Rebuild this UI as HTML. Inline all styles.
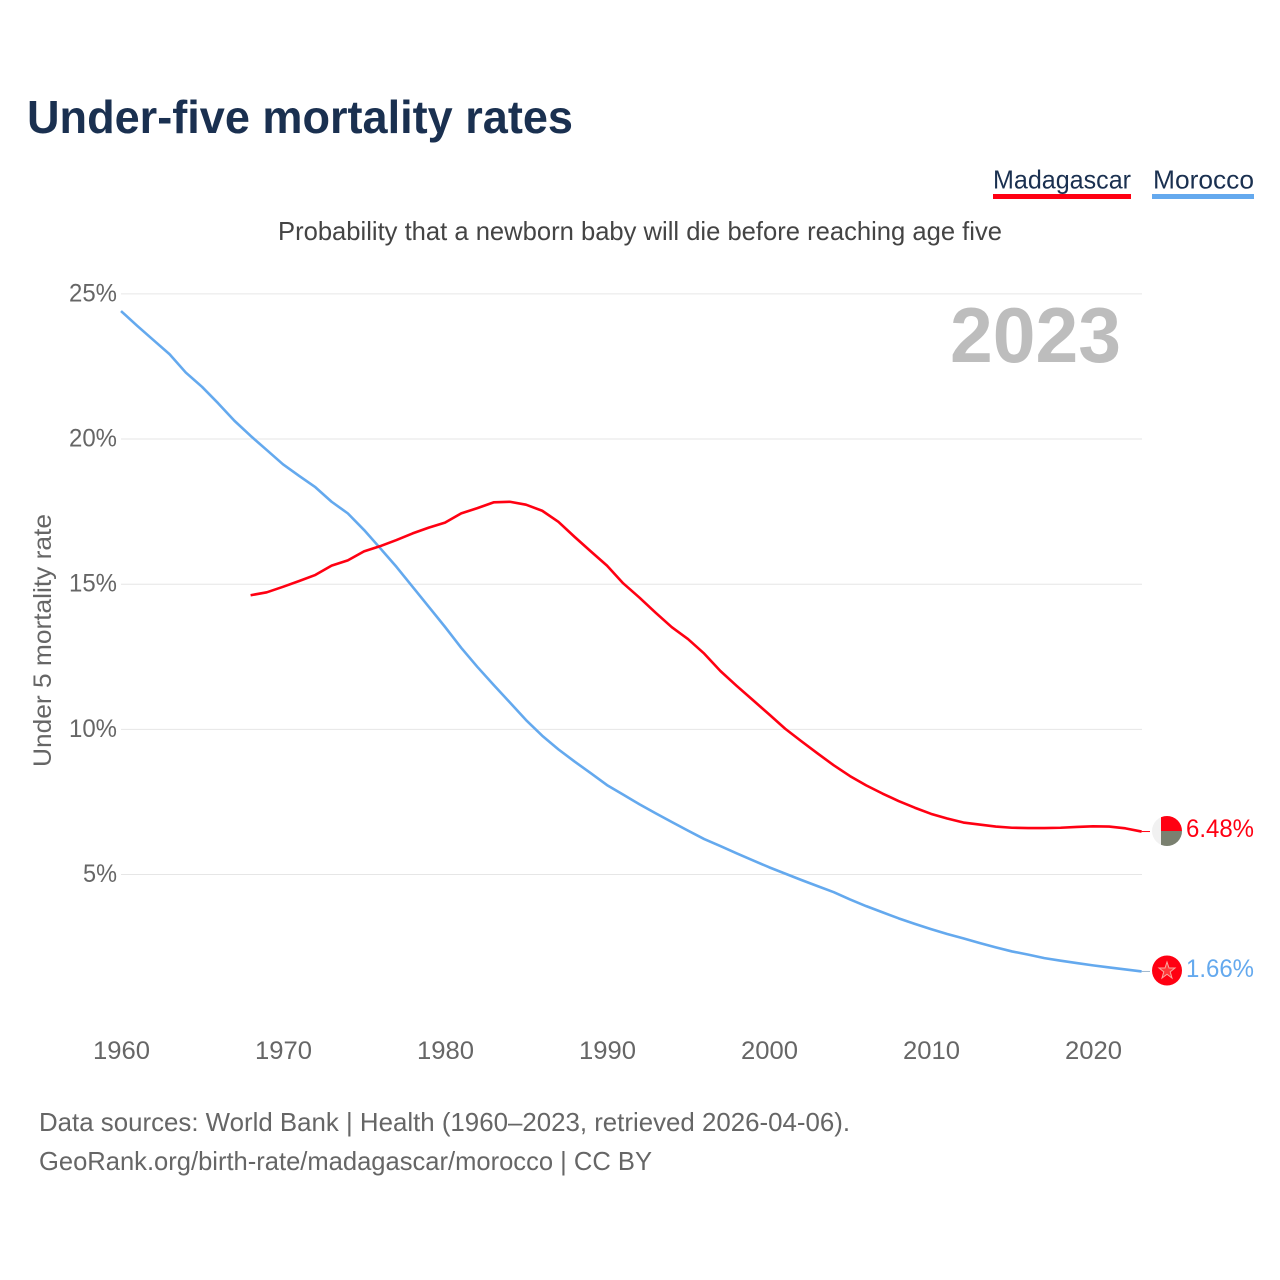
<!DOCTYPE html>
<html lang="en">
<head>
<meta charset="utf-8">
<title>Under-five mortality rates</title>
<style>
html,body{margin:0;padding:0;background:#fff;}
svg{display:block;font-family:"Liberation Sans",sans-serif;}
</style>
</head>
<body>
<svg id="chart" width="1280" height="1280" viewBox="0 0 1280 1280" xmlns="http://www.w3.org/2000/svg">
  <rect x="0" y="0" width="1280" height="1280" fill="#ffffff"/>
  <text x="27" y="133" font-size="46" font-weight="700" fill="#1a3050" textLength="546" lengthAdjust="spacingAndGlyphs">Under-five mortality rates</text>

  <g>
    <text x="993" y="188.5" font-size="26" fill="#1a3050" textLength="138" lengthAdjust="spacingAndGlyphs">Madagascar</text>
    <rect x="993" y="194" width="138" height="5" fill="#ff0012"/>
  </g>
  <g>
    <text x="1153" y="188.5" font-size="26" fill="#1a3050" textLength="101" lengthAdjust="spacingAndGlyphs">Morocco</text>
    <rect x="1152" y="194" width="102" height="5" fill="#64a9ee"/>
  </g>

  <text x="278" y="240" font-size="26" fill="#444444" textLength="724" lengthAdjust="spacingAndGlyphs">Probability that a newborn baby will die before reaching age five</text>

  <g id="grid"></g>
  <g id="y-ticks"></g>
  <g id="x-ticks"></g>

  <text x="950" y="362" font-size="78" font-weight="700" fill="#bdbdbd" textLength="171" lengthAdjust="spacingAndGlyphs">2023</text>

  <text transform="translate(51 767) rotate(-90)" x="0" y="0" font-size="25" fill="#666666" textLength="253" lengthAdjust="spacingAndGlyphs">Under 5 mortality rate</text>

  <line id="madagascar-connector" stroke="#ff0012" stroke-width="1"/>
  <line id="morocco-connector" stroke="#9fb6cc" stroke-width="1"/>
  <path id="morocco-line" fill="none" stroke="#64a9ee" stroke-width="2.6" stroke-linejoin="round" stroke-linecap="butt"/>
  <path id="madagascar-line" fill="none" stroke="#ff0012" stroke-width="2.6" stroke-linejoin="round" stroke-linecap="butt"/>

  <g id="madagascar-flag">
    <clipPath id="flag-clip-mg"><circle cx="1167" cy="831" r="15"/></clipPath>
    <g clip-path="url(#flag-clip-mg)">
      <rect x="1152" y="816" width="15" height="30" fill="#f1f1f1"/>
      <rect x="1161" y="816" width="21" height="15" fill="#ff0012"/>
      <rect x="1161" y="831" width="21" height="15" fill="#7a8070"/>
    </g>
  </g>
  <g id="morocco-flag">
    <circle cx="1167" cy="970.5" r="15" fill="#ff0012"/>
    <polygon points="1167,962 1169,968 1175,968 1170.2,971.8 1172,978 1167,974.2 1162,978 1163.8,971.8 1159,968 1165,968" fill="#ff3a3a" stroke="#f7a8a0" stroke-width="1"/>
  </g>

  <text x="1186" y="837" font-size="25" fill="#ff0012" textLength="68" lengthAdjust="spacingAndGlyphs">6.48%</text>
  <text x="1186" y="977" font-size="25" fill="#64a9ee" textLength="68" lengthAdjust="spacingAndGlyphs">1.66%</text>

  <text x="39" y="1131" font-size="26" fill="#666666" textLength="811" lengthAdjust="spacingAndGlyphs">Data sources: World Bank | Health (1960–2023, retrieved 2026-04-06).</text>
  <text x="39" y="1170" font-size="26" fill="#666666" textLength="613" lengthAdjust="spacingAndGlyphs">GeoRank.org/birth-rate/madagascar/morocco | CC BY</text>
</svg>
<script>
const xTickYears = [1960, 1970, 1980, 1990, 2000, 2010, 2020];
const yTickValues = [5, 10, 15, 20, 25];
const moroccoStartYear = 1960;
const moroccoValues = [
  24.41, 23.90, 23.41, 22.92, 22.29, 21.80, 21.23, 20.63, 20.11, 19.62,
  19.13, 18.73, 18.34, 17.84, 17.44, 16.87, 16.24, 15.60, 14.91, 14.22,
  13.53, 12.81, 12.15, 11.53, 10.93, 10.32, 9.78, 9.31, 8.89, 8.49,
  8.08, 7.75, 7.42, 7.11, 6.81, 6.51, 6.22, 5.98, 5.73, 5.49,
  5.25, 5.03, 4.81, 4.60, 4.39, 4.14, 3.91, 3.70, 3.49, 3.30,
  3.12, 2.95, 2.80, 2.64, 2.49, 2.35, 2.24, 2.12, 2.03, 1.95,
  1.87, 1.80, 1.73, 1.66
];
const madagascarStartYear = 1968;
const madagascarValues = [
  14.62, 14.72, 14.91, 15.11, 15.32, 15.64, 15.82, 16.13, 16.31, 16.52,
  16.75, 16.95, 17.12, 17.44, 17.62, 17.82, 17.84, 17.74, 17.53, 17.15,
  16.63, 16.13, 15.64, 15.03, 14.54, 14.02, 13.52, 13.11, 12.61, 12.01,
  11.50, 11.01, 10.52, 10.02, 9.59, 9.17, 8.76, 8.39, 8.07, 7.79,
  7.53, 7.30, 7.09, 6.93, 6.79, 6.72, 6.65, 6.61, 6.60, 6.60,
  6.61, 6.64, 6.66, 6.65, 6.59, 6.48
];

const NS = 'http://www.w3.org/2000/svg';
function xScale(year) { return 121 + (year - 1960) * 16.2; }
function yScale(value) { return 874.5 - (value - 5) * 29.03; }
function linePath(startYear, values) {
  return values.map(function (v, i) {
    return (i ? 'L' : 'M') + xScale(startYear + i).toFixed(2) + ' ' + yScale(v).toFixed(2);
  }).join(' ');
}

const gridGroup = document.getElementById('grid');
const yTickGroup = document.getElementById('y-ticks');
const xTickGroup = document.getElementById('x-ticks');

yTickValues.forEach(function (v) {
  const line = document.createElementNS(NS, 'line');
  
  
  line.setAttribute('x1', 121);
  line.setAttribute('x2', 1142);
  line.setAttribute('y1', yScale(v));
  line.setAttribute('y2', yScale(v));
  line.setAttribute('stroke', '#e6e6e6');
  line.setAttribute('stroke-width', '1');
  gridGroup.appendChild(line);

  const label = v + '%';
  const text = document.createElementNS(NS, 'text');
  
  
  text.setAttribute('x', 117);
  text.setAttribute('y', yScale(v) + 7.5);
  text.setAttribute('text-anchor', 'end');
  text.setAttribute('font-size', '25');
  text.setAttribute('fill', '#666666');
  text.setAttribute('textLength', label.length === 3 ? 48 : 34);
  text.setAttribute('lengthAdjust', 'spacingAndGlyphs');
  text.textContent = label;
  yTickGroup.appendChild(text);
});

xTickYears.forEach(function (year) {
  const text = document.createElementNS(NS, 'text');
  
  
  text.setAttribute('x', xScale(year) + 0.5);
  text.setAttribute('y', 1059);
  text.setAttribute('text-anchor', 'middle');
  text.setAttribute('font-size', '25');
  text.setAttribute('fill', '#666666');
  text.setAttribute('textLength', '57');
  text.setAttribute('lengthAdjust', 'spacingAndGlyphs');
  text.textContent = year;
  xTickGroup.appendChild(text);
});

document.getElementById('morocco-line').setAttribute('d', linePath(moroccoStartYear, moroccoValues));
document.getElementById('madagascar-line').setAttribute('d', linePath(madagascarStartYear, madagascarValues));

function placeConnector(id, startYear, values) {
  const c = document.getElementById(id);
  const lastYear = startYear + values.length - 1;
  const lastValue = values[values.length - 1];
  c.setAttribute('x1', xScale(lastYear));
  c.setAttribute('x2', 1150);
  c.setAttribute('y1', yScale(lastValue));
  c.setAttribute('y2', yScale(lastValue));
}
placeConnector('madagascar-connector', madagascarStartYear, madagascarValues);
placeConnector('morocco-connector', moroccoStartYear, moroccoValues);
</script>
</body>
</html>
